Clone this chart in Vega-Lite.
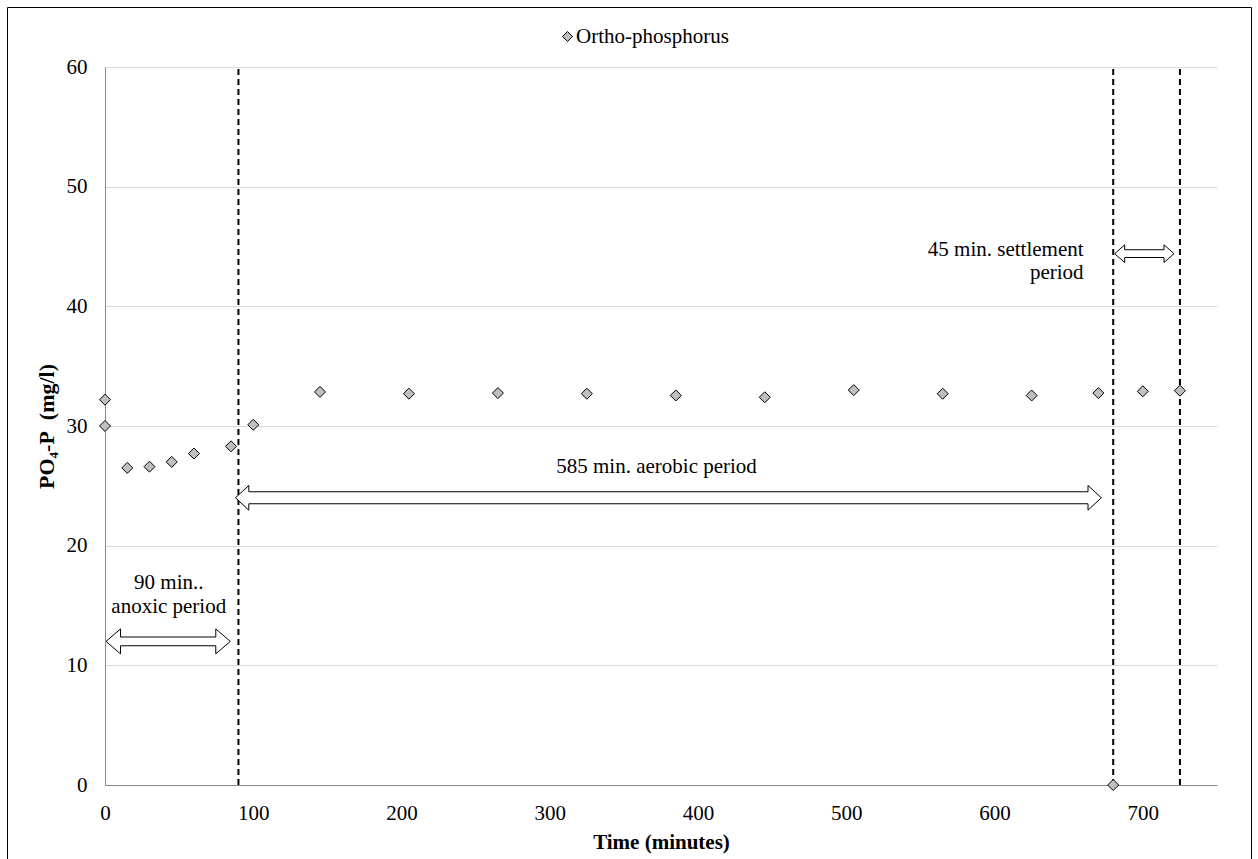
{
  "$schema": "https://vega.github.io/schema/vega-lite/v6.json",
  "autosize": {"type": "none"},
  "padding": {"left": 7, "top": 7, "right": 7, "bottom": 0},
  "width": 1244,
  "height": 852,
  "background": "white",
  "config": {
    "font": "Liberation Serif",
    "view": {"stroke": "black", "strokeWidth": 1},
    "axis": {
      "labelFont": "Liberation Serif",
      "labelFontSize": 21,
      "labelColor": "black",
      "labelFlush": false,
      "titleFont": "Liberation Serif",
      "titleFontSize": 21,
      "titleFontWeight": "bold",
      "titleColor": "black",
      "domainColor": "#898989",
      "domainWidth": 1,
      "ticks": false,
      "tickSize": 0,
      "gridColor": "#D9D9D9",
      "gridWidth": 1
    }
  },
  "datasets": {
    "points": [
      {"t": 0, "p": 32.2},
      {"t": 0, "p": 30.0},
      {"t": 15, "p": 26.5},
      {"t": 30, "p": 26.6},
      {"t": 45, "p": 27.0},
      {"t": 60, "p": 27.7},
      {"t": 85, "p": 28.3},
      {"t": 100, "p": 30.1},
      {"t": 145, "p": 32.85},
      {"t": 205, "p": 32.7},
      {"t": 265, "p": 32.75},
      {"t": 325, "p": 32.7},
      {"t": 385, "p": 32.55},
      {"t": 445, "p": 32.4},
      {"t": 505, "p": 33.0},
      {"t": 565, "p": 32.7},
      {"t": 625, "p": 32.55},
      {"t": 670, "p": 32.75},
      {"t": 680, "p": 0},
      {"t": 700, "p": 32.9},
      {"t": 725, "p": 32.95}
    ],
    "bounds": [{"t": 90}, {"t": 680}, {"t": 725}],
    "arrows": [
      {"arrow": "anoxic", "t": 0.7, "t2": 84.5, "p": 12.0},
      {"arrow": "aerobic", "t": 88, "t2": 672, "p": 24.0},
      {"arrow": "settlement", "t": 681, "t2": 721, "p": 44.4}
    ],
    "labels_center": [
      {"t": 43, "p": 16.85, "label": "90 min..\nanoxic period"},
      {"t": 372, "p": 26.55, "label": "585 min. aerobic period"}
    ],
    "labels_right": [
      {"t": 660, "p": 44.7, "label": "45 min. settlement\nperiod"}
    ]
  },
  "resolve": {"scale": {"shape": "independent", "strokeWidth": "independent"}},
  "layer": [
    {
      "data": {"name": "bounds"},
      "mark": {"type": "rule", "stroke": "black", "strokeWidth": 2, "strokeDash": [6, 4]},
      "encoding": {
        "x": {
          "field": "t", "type": "quantitative",
          "scale": {"domain": [0, 750], "range": [98, 1210], "nice": false, "zero": false},
          "axis": {
            "title": "Time (minutes)",
            "values": [0, 100, 200, 300, 400, 500, 600, 700],
            "grid": false,
            "offset": -74,
            "labelPadding": 17,
            "titleY": 63,
            "titleBaseline": "alphabetic"
          }
        },
        "y": {
          "datum": 0, "type": "quantitative",
          "scale": {"domain": [0, 60], "range": [778, 60], "nice": false},
          "axis": {
            "title": "PO₄-P\u00a0 (mg/l)",
            "values": [0, 10, 20, 30, 40, 50, 60],
            "grid": true,
            "offset": -98,
            "labelPadding": 18,
            "titleX": -52,
            "titleFontSize": 22,
            "titleBaseline": "alphabetic"
          }
        },
        "y2": {"datum": 60}
      }
    },
    {
      "data": {"name": "points"},
      "mark": {"type": "point", "shape": "diamond", "filled": true, "size": 121, "stroke": "black", "strokeWidth": 1, "opacity": 1},
      "encoding": {
        "x": {"field": "t", "type": "quantitative"},
        "y": {"field": "p", "type": "quantitative"},
        "fill": {
          "datum": "Ortho-phosphorus", "type": "nominal",
          "scale": {"range": ["#BFBFBF"]},
          "legend": {
            "title": null,
            "orient": "none",
            "legendX": 550,
            "legendY": 19,
            "padding": 0,
            "symbolType": "diamond",
            "symbolSize": 100,
            "symbolStrokeColor": "black",
            "symbolStrokeWidth": 1,
            "symbolOpacity": 1,
            "labelFont": "Liberation Serif",
            "labelFontSize": 21,
            "labelColor": "black",
            "labelOffset": -2
          }
        }
      }
    },
    {
      "data": {"name": "arrows"},
      "mark": {"type": "rule", "stroke": "black", "xOffset": 10, "x2Offset": -10, "strokeCap": "butt"},
      "encoding": {
        "x": {"field": "t", "type": "quantitative"},
        "x2": {"field": "t2"},
        "y": {"field": "p", "type": "quantitative"},
        "strokeWidth": {
          "field": "arrow", "type": "nominal",
          "scale": {"type": "ordinal", "domain": ["anoxic", "aerobic", "settlement"], "range": [9.7, 13, 8.7]},
          "legend": null
        }
      }
    },
    {
      "data": {"name": "arrows"},
      "mark": {"type": "rule", "stroke": "white", "xOffset": 9, "x2Offset": -9, "strokeCap": "butt"},
      "encoding": {
        "x": {"field": "t", "type": "quantitative"},
        "x2": {"field": "t2"},
        "y": {"field": "p", "type": "quantitative"},
        "strokeWidth": {
          "field": "arrow", "type": "nominal",
          "scale": {"type": "ordinal", "domain": ["anoxic", "aerobic", "settlement"], "range": [7.7, 11, 6.7]},
          "legend": null
        }
      }
    },
    {
      "data": {"name": "arrows"},
      "mark": {"type": "point", "filled": true, "fill": "white", "stroke": "black", "strokeWidth": 1, "opacity": 1, "strokeJoin": "miter"},
      "encoding": {
        "x": {"field": "t", "type": "quantitative"},
        "y": {"field": "p", "type": "quantitative"},
        "shape": {
          "field": "arrow", "type": "nominal",
          "scale": {
            "domain": ["anoxic", "aerobic", "settlement"],
            "range": [
              "M 1.16 -0.35 L 1.16 -1 L 0 0 L 1.16 1 L 1.16 0.35",
              "M 1.08 -0.49 L 1.08 -1 L 0 0 L 1.08 1 L 1.08 0.49",
              "M 1.13 -0.435 L 1.13 -1 L 0 0 L 1.13 1 L 1.13 0.435"
            ]
          },
          "legend": null
        },
        "size": {
          "field": "arrow", "type": "nominal",
          "scale": {"type": "ordinal", "domain": ["anoxic", "aerobic", "settlement"], "range": [625, 610, 313]},
          "legend": null
        }
      }
    },
    {
      "data": {"name": "arrows"},
      "mark": {"type": "point", "filled": true, "fill": "white", "stroke": "black", "strokeWidth": 1, "opacity": 1, "strokeJoin": "miter"},
      "encoding": {
        "x": {"field": "t2", "type": "quantitative"},
        "y": {"field": "p", "type": "quantitative"},
        "shape": {
          "field": "arrow", "type": "nominal",
          "scale": {
            "domain": ["anoxic", "aerobic", "settlement"],
            "range": [
              "M -1.16 -0.35 L -1.16 -1 L 0 0 L -1.16 1 L -1.16 0.35",
              "M -1.08 -0.49 L -1.08 -1 L 0 0 L -1.08 1 L -1.08 0.49",
              "M -1.13 -0.435 L -1.13 -1 L 0 0 L -1.13 1 L -1.13 0.435"
            ]
          },
          "legend": null
        },
        "size": {
          "field": "arrow", "type": "nominal",
          "scale": {"type": "ordinal", "domain": ["anoxic", "aerobic", "settlement"], "range": [625, 610, 313]},
          "legend": null
        }
      }
    },
    {
      "data": {"name": "labels_center"},
      "mark": {"type": "text", "font": "Liberation Serif", "fontSize": 21, "fill": "black", "align": "center", "baseline": "middle", "lineBreak": "\n", "lineHeight": 23.5},
      "encoding": {
        "x": {"field": "t", "type": "quantitative"},
        "y": {"field": "p", "type": "quantitative"},
        "text": {"field": "label", "type": "nominal"}
      }
    },
    {
      "data": {"name": "labels_right"},
      "mark": {"type": "text", "font": "Liberation Serif", "fontSize": 21, "fill": "black", "align": "right", "baseline": "middle", "lineBreak": "\n", "lineHeight": 23},
      "encoding": {
        "x": {"field": "t", "type": "quantitative"},
        "y": {"field": "p", "type": "quantitative"},
        "text": {"field": "label", "type": "nominal"}
      }
    }
  ]
}
